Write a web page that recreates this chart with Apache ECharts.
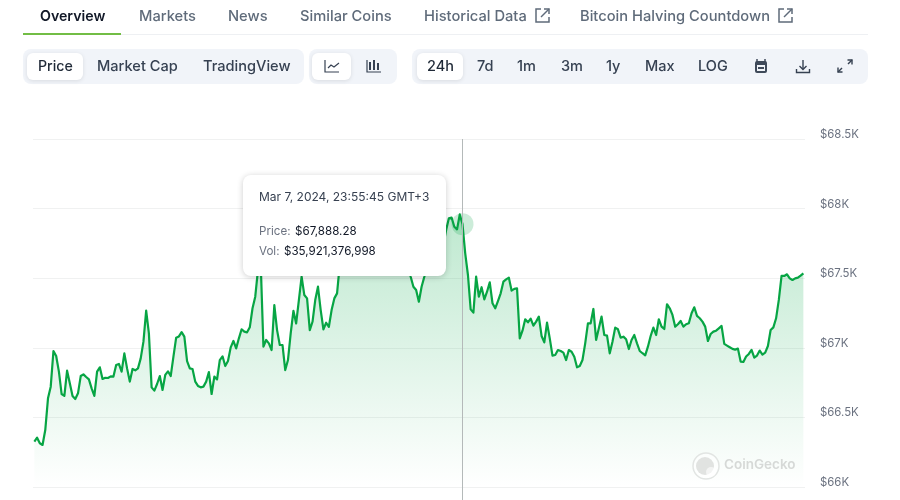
<!DOCTYPE html>
<html><head><meta charset="utf-8">
<style>html,body{margin:0;padding:0;background:#fff}#c{width:900px;height:500px}</style>
<script src="https://cdn.jsdelivr.net/npm/echarts@6/dist/echarts.min.js"></script>
</head><body><div id="c"></div>
<script>
const prices = [
66326,66354,66314,66302,66409,66637,66721,66977,66941,66829,66668,66654,66836,66745,66654,66632,66673,66797,66809,66790,
66773,66709,66654,66829,66860,66776,66785,66783,66795,66793,66876,66884,66829,66960,66852,66757,66848,66838,66852,66924,
67044,67267,67104,66716,66692,66740,66797,66697,66805,66831,66797,66936,67073,67082,67113,67080,66905,66852,66848,66757,
66726,66716,66721,66757,66826,66668,66793,66773,66912,66939,66869,66905,67003,67049,66996,67068,67133,67116,67111,67147,
67284,67367,67560,67610,
67008,67056,67032,66984,67307,67127,67020,67020,66840,66912,67103,67266,67175,67343,67511,67379,67355,67127,67187,67343,
67439,67271,67132,67180,67151,67271,67355,67391,
67600,67660,67700,67690,67720,67780,67750,67700,67740,67810,67790,67760,67720,67780,67840,67820,67770,67730,67790,67830,
67800,67760,67710,67680,67640,67590,
67511,67439,67415,67331,67439,67511,
67590,67630,67700,67660,67700,67760,67740,
67846,67930,67935,67870,67851,67958,67888.28,
67679,67523,67276,67253,67511,67367,67435,67348,67403,67470,67320,67284,67336,67391,67475,67492,67504,67411,67423,67427,
67068,67123,67205,67183,67209,67159,67188,67224,67085,67039,67181,67068,66944,66948,66984,66977,66965,66912,66984,66972,
66936,66860,66869,66912,67032,67176,67176,67279,67056,67140,67224,67092,67087,66960,67044,67145,67133,67073,67080,67061,
66991,67056,67092,67032,
66977,66961,66946,67008,67085,67145,67092,67205,67152,67135,67313,67284,67236,67152,67169,67193,67152,67169,67176,67248,
67291,67229,67212,67188,67152,67049,67099,67116,67123,67140,67157,67028,67016,67004,66992,66987,66994,66901,66898,66937,
66956,66985,66929,66944,66980,66951,66965,67013,67128,67147,67212,67344,67516,67516,67528,67499,67487,67499,67504,67519,67535
];
const hoverPrice = 67888.28;
const hoverIndex = prices.indexOf(hoverPrice);
const tooltipTime = "Mar 7, 2024, 23:55:45 GMT+3";
const tooltipPrice = "$67,888.28";
const tooltipVol = "$35,921,376,998";
const navTabs = ["Overview","Markets","News","Similar Coins","Historical Data","Bitcoin Halving Countdown"];
const dataTypes = ["Price","Market Cap","TradingView"];
const ranges = ["24h","7d","1m","3m","1y","Max","LOG"];
const yTicks = {66000:"$66K",66500:"$66.5K",67000:"$67K",67500:"$67.5K",68000:"$68K",68500:"$68.5K"};

const FONT = 'Inter, "Noto Sans", sans-serif';
const Z = 100;
const txt = (t,x,y,o={}) => ({type:'text',z:Z,x,y,style:{text:t,font:`${o.w||500} ${o.s||14.7}px ${FONT}`,fill:o.c||'#4b5563',textVerticalAlign:'middle',verticalAlign:'middle'}});
const box = (x,y,w,h,r,fill,extra={}) => ({type:'rect',z:extra.z||Z,shape:{x,y,width:w,height:h,r},style:Object.assign({fill},extra.style||{})});
const line = (pts,c='#4b5563',w=1.4) => ({type:'polyline',z:Z+1,shape:{points:pts},style:{stroke:c,lineWidth:w,fill:null}});
const extIcon = (x,y,c) => [
  line([[x+6,y+1],[x+1,y+1],[x+1,y+14],[x+14,y+14],[x+14,y+9]],c,1.5),
  line([[x+6,y+9],[x+14,y+1]],c,1.5),
  line([[x+9,y+1],[x+14,y+1],[x+14,y+6]],c,1.5)
];
const NAV='#5f6b7a', DARK='#111827', BTN='#364152';
const shadow={shadowBlur:4,shadowColor:'rgba(0,0,0,0.10)',shadowOffsetY:1};
const navX=[40,139,228,300,424,580], dtX=[38,97,203], rX=[427,477,517,561,606,645,698];
const gfx=[
  box(23,34,845,1,0,'#eef0f3'),
  box(23,33,98,2,0,'#72bd45'),
  ...navTabs.map((t,i)=>txt(t,navX[i],16.5,{c:i?NAV:DARK,w:i?500:600,s:i?14.7:14.2})),
  ...extIcon(535,8,NAV),...extIcon(778,8,NAV),
  box(23,49,281,35,8,'#f1f4f9'),box(309,49,88,35,8,'#f1f4f9'),box(412,49,456,35,8,'#f1f4f9'),
  box(27,53,56,27,6,'#fff',{style:shadow,z:Z+1}),
  box(312,53,39,27,6,'#fff',{style:shadow,z:Z+1}),
  box(417,53,46,27,6,'#fff',{style:shadow,z:Z+1}),
  ...dataTypes.map((t,i)=>Object.assign(txt(t,dtX[i],66.5,{c:i?BTN:'#1f2937',s:i?14.6:14.2}),{z:Z+2})),
  ...ranges.map((t,i)=>Object.assign(txt(t,rX[i],66.5,{c:i?BTN:'#1f2937',s:14.5}),{z:Z+2})),
  // line / candle icons
  Object.assign(line([[325,60],[325,72],[339,72]],BTN,1.2),{z:Z+2}),
  Object.assign(line([[328,68],[331,65],[334,67],[339,63]],BTN,1.2),{z:Z+2}),
  line([[367,60],[367,72],[381,72]],BTN,1.2),
  line([[370,62],[370,70]],BTN,2),line([[374,60],[374,70]],BTN,2),line([[378,63],[378,70]],BTN,2),
  // calendar
  box(755,61,12,12,2,'#3f4a5a'),box(757,65,8,6,0,'#f1f4f9'),box(758,67,6,2,0,'#3f4a5a'),
  line([[757,59],[757,62]],'#3f4a5a',1.5),line([[765,59],[765,62]],'#3f4a5a',1.5),
  // download
  line([[803,60],[803,69]],BTN,1.4),line([[799.5,66],[803,69.5],[806.5,66]],BTN,1.4),
  line([[796.5,69],[796.5,72.5],[809.5,72.5],[809.5,69]],BTN,1.4),
  // expand
  line([[848,64],[852,60]],BTN,1.4),line([[847.5,60],[852,60],[852,64.5]],BTN,1.4),
  line([[838,72],[842,68]],BTN,1.4),line([[838,67.5],[838,72],[842.5,72]],BTN,1.4),
  // tooltip
  box(243,175,203,101,8,'#ffffff',{z:Z+5,style:{shadowBlur:6,shadowColor:'rgba(0,0,0,0.2)',shadowOffsetY:1}}),
  Object.assign(txt(tooltipTime,259,197,{s:12,w:400,c:'#374151'}),{z:Z+6}),
  Object.assign(txt("Price:",259,232,{s:11.6,w:400,c:'#6b7280'}),{z:Z+6}),
  Object.assign(txt(tooltipPrice,295,232,{s:11.6,w:400,c:'#111827'}),{z:Z+6}),
  Object.assign(txt("Vol:",259,251.5,{s:11.6,w:400,c:'#6b7280'}),{z:Z+6}),
  Object.assign(txt(tooltipVol,284,251.5,{s:11.6,w:400,c:'#111827'}),{z:Z+6}),
  // watermark
  {type:'circle',z:Z,shape:{cx:706,cy:466,r:13},style:{fill:'rgba(255,255,255,0.5)',stroke:'#e2e5e3',lineWidth:1.5}},
  {type:'circle',z:Z,shape:{cx:705,cy:466,r:9},style:{fill:'#e1e3e1'}},
  {type:'circle',z:Z,shape:{cx:711,cy:472,r:5},style:{fill:'rgba(255,255,255,0.6)'}},
  txt("CoinGecko",724,465,{s:13.5,w:600,c:'#d6d9d7'})
];

const chart = echarts.init(document.getElementById('c'),null,{renderer:'canvas'});
chart.setOption({
  animation:false,
  backgroundColor:'#ffffff',
  grid:{left:33,width:772,top:139,height:417.6,containLabel:false,outerBoundsMode:'none'},
  xAxis:{type:'value',min:-0.5,max:282.6,show:false},
  yAxis:{type:'value',position:'right',min:65500,max:68500,interval:500,
    axisLine:{show:false},axisTick:{show:false},
    splitLine:{lineStyle:{color:'#f0f1f1',width:1}},
    axisLabel:{margin:15,color:'#6b7280',fontFamily:FONT,fontSize:11.4,verticalAlign:'bottom',lineHeight:9,
      formatter:v=>yTicks[v]||''}},
  series:[
    {type:'line',data:prices.map((p,i)=>[i,p]),showSymbol:false,symbol:'none',smooth:false,z:3,
     lineStyle:{color:'#07a544',width:2.2,join:'round'},
     areaStyle:{origin:66000,color:new echarts.graphic.LinearGradient(0,0,0,1,[
       {offset:0,color:'rgba(10,170,75,0.38)'},{offset:1,color:'rgba(10,170,75,0)'}])},
     markLine:{silent:true,symbol:'none',label:{show:false},animation:false,
       lineStyle:{color:'#b4b9b9',width:1,type:'solid'},data:[{xAxis:hoverIndex}]}},
    {type:'scatter',data:[[hoverIndex,hoverPrice]],symbolSize:22,z:4,silent:true,
     itemStyle:{color:'rgba(10,165,70,0.26)'}}
  ],
  graphic:{elements:gfx}
});
</script></body></html>
